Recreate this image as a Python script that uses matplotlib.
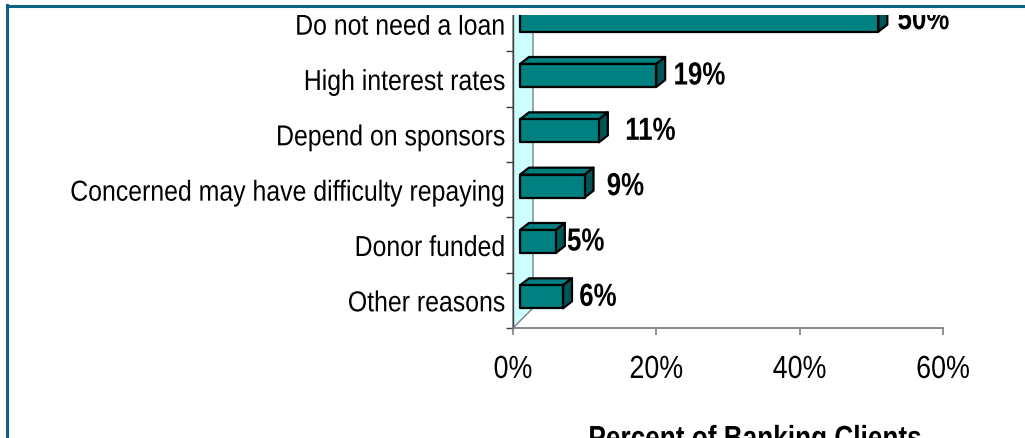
import matplotlib
matplotlib.use("Agg")
import matplotlib.pyplot as plt
from matplotlib.patches import Polygon, Rectangle
from matplotlib.lines import Line2D
from matplotlib.patheffects import AbstractPathEffect
from matplotlib.transforms import Affine2D

# Reasons for not taking a loan, share of respondents (%)
reasons = [
    "Do not need a loan",
    "High interest rates",
    "Depend on sponsors",
    "Concerned may have difficulty repaying",
    "Donor funded",
    "Other reasons",
]
shares = [50, 19, 11, 9, 5, 6]
value_labels = ["50%", "19%", "11%", "9%", "5%", "6%"]
x_ticks = [0, 20, 40, 60]
x_tick_labels = ["0%", "20%", "40%", "60%"]
x_title = "Percent of Banking Clients"

# horizontal gap (px) between each bar's side face and its value label
label_gap_px = [10, 8, 17, 13, 2, 7]

plt.rcParams["font.family"] = ["Liberation Sans", "DejaVu Sans"]


class Narrow(AbstractPathEffect):
    """Draw text horizontally condensed, like a narrow typeface."""

    def __init__(self, sx=0.83, anchor="center"):
        super().__init__()
        self.sx = sx
        self.anchor = anchor

    def draw_path(self, renderer, gc, tpath, affine, rgbFace=None):
        ext = tpath.get_extents(affine)
        if self.anchor == "right":
            x0 = ext.x1
        elif self.anchor == "left":
            x0 = ext.x0
        else:
            x0 = 0.5 * (ext.x0 + ext.x1)
        t = affine + Affine2D().translate(-x0, 0).scale(self.sx, 1).translate(x0, 0)
        renderer.draw_path(gc, tpath, t, rgbFace)


W, H, DPI = 1025, 438, 100
fig = plt.figure(figsize=(W / DPI, H / DPI), dpi=DPI)

# plot area in pixels
ax_left, ax_right = 513, 943
ax_top, ax_bottom = -4, 328
ax = fig.add_axes([ax_left / W, 1 - ax_bottom / H,
                   (ax_right - ax_left) / W, (ax_bottom - ax_top) / H])
ax.set_xlim(0, 60)
n = len(reasons)
ax.set_ylim(n - 0.5, -0.5)

# data units per pixel
ux = 60 / (ax_right - ax_left)
uy = n / (ax_bottom - ax_top)

# back wall of the 3-D plot
wall_d = 20
wall = Polygon([(0, n - 0.5), (wall_d * ux, n - 0.5 - wall_d * uy),
                (wall_d * ux, -1.5), (0, -1.5)],
               closed=True, facecolor="#ccffff", edgecolor="#808080",
               linewidth=1.0, zorder=1, clip_on=False)
ax.add_patch(wall)

# 3-D bars
front_c = "#008080"
top_c = "#008080"
side_c = "#005555"
x_off = 7 * ux           # bars sit slightly in front of the wall
dx, dy = 9 * ux, 7 * uy  # depth of each bar
half_h = 11.5 * uy
y_shift = -3.5 * uy
for i, v in enumerate(shares):
    yc = i + y_shift
    x0, x1 = x_off, x_off + v
    y_top, y_bot = yc - half_h, yc + half_h
    kw = dict(edgecolor="black", linewidth=1.6, joinstyle="round", zorder=3)
    ax.add_patch(Polygon([(x0, y_top), (x1, y_top), (x1 + dx, y_top - dy),
                          (x0 + dx, y_top - dy)], closed=True,
                         facecolor=top_c, **kw))
    ax.add_patch(Polygon([(x1, y_top), (x1 + dx, y_top - dy),
                          (x1 + dx, y_bot - dy), (x1, y_bot)], closed=True,
                         facecolor=side_c, **kw))
    ax.add_patch(Rectangle((x0, y_top), v, y_bot - y_top,
                           facecolor=front_c, **kw))
    ax.text(x1 + dx + label_gap_px[i] * ux, yc + 1.0 * uy, value_labels[i],
            ha="left", va="center", fontsize=23, fontweight="bold",
            color="black", zorder=4,
            path_effects=[Narrow(0.81, "left")])

# axes styling
for s in ("top", "right"):
    ax.spines[s].set_visible(False)
ax.spines["left"].set_color("#404040")
ax.spines["left"].set_linewidth(1.0)
ax.spines["bottom"].set_color("#808080")
ax.spines["bottom"].set_linewidth(1.3)
ax.spines["left"].set_zorder(2)

ax.set_yticks(range(n))
ax.set_yticklabels(reasons, fontsize=20.8)
ax.set_yticks([i + 0.5 for i in range(-1, n)], minor=True)
ax.tick_params(axis="y", which="major", length=0, pad=5.5)
ax.tick_params(axis="y", which="minor", length=5, color="#404040", width=1)
for lab in ax.get_yticklabels():
    lab.set_path_effects([Narrow(0.86, "right")])

ax.set_xticks(x_ticks)
ax.set_xticklabels(x_tick_labels, fontsize=23)
ax.tick_params(axis="x", length=5, color="#808080", width=1.2, pad=14.4)
for lab in ax.get_xticklabels():
    lab.set_path_effects([Narrow(0.84, "center")])

# axis title, mostly below the visible area
fig.text(588 / W, 1 - 448 / H, x_title,
         ha="left", va="baseline", fontsize=23, fontweight="bold",
         path_effects=[Narrow(0.82, "left")])

# slide frame: blank strip above the chart and a border line
fig.add_artist(Rectangle((0, 1 - 15 / H), 1, 15 / H, transform=fig.transFigure,
                         facecolor="white", edgecolor="none", zorder=10))
frame_c = "#0d6283"
fig.add_artist(Line2D([7 / W, 1], [1 - 6 / H, 1 - 6 / H], transform=fig.transFigure,
                      color=frame_c, linewidth=2.2, zorder=11))
fig.add_artist(Line2D([7 / W, 7 / W], [0, 1 - 5 / H], transform=fig.transFigure,
                      color=frame_c, linewidth=2.2, zorder=11))

fig.savefig("out.png", dpi=DPI)
